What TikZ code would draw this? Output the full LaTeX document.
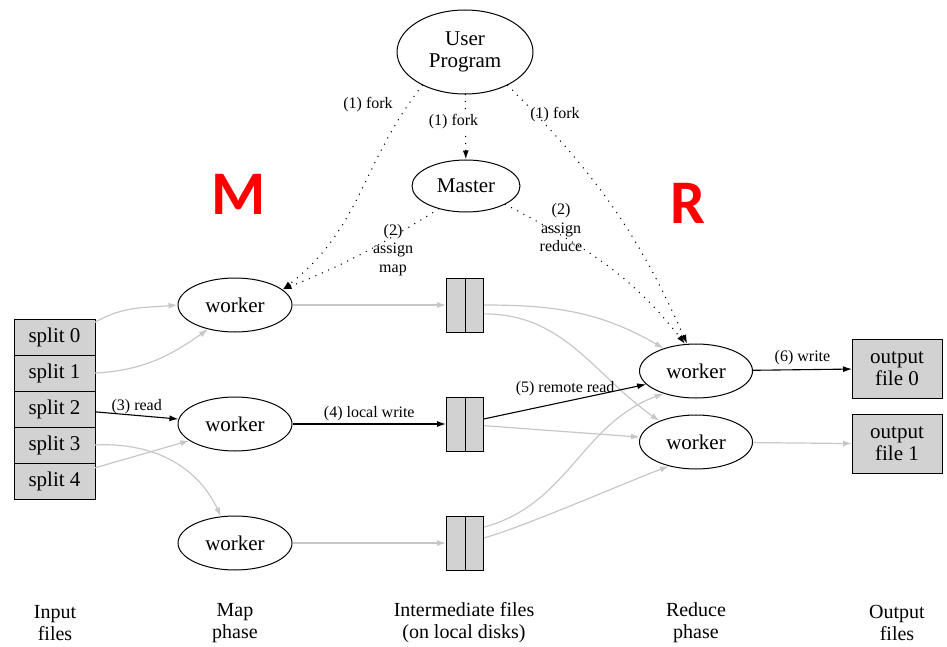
\documentclass[tikz,border=0pt]{standalone}
\usepackage{fontspec}
\setmainfont{Liberation Serif}
\newfontfamily\tagfont{Carlito}
\usetikzlibrary{shapes.geometric,arrows.meta,positioning}

\begin{document}
\begin{tikzpicture}
        [x=1pt,y=1pt,>={Latex[length=9pt,width=6pt]},
        main/.style ={draw,ellipse,line width=1pt,inner sep=0pt,align=center,font=\fontsize{21}{22}\selectfont},
        splitbox/.style ={draw,fill=gray!35,line width=1pt,inner sep=0pt,outer sep=0pt,minimum width=81pt,minimum height=36pt,font=\fontsize{21}{22}\selectfont},
        midfile/.style ={draw,fill=gray!35,line width=1pt,inner sep=0pt,minimum width=37pt,minimum height=54pt},
        outfile/.style ={splitbox,align=center,minimum width=90pt,minimum height=59pt},
        ctl/.style ={->,line width=1.5pt,dash pattern=on 0pt off 7pt,line cap=round},
        data/.style ={->,line width=1.2pt,black!22},
        hot/.style ={->,line width=1.1pt},
        lbl/.style ={font=\fontsize{16}{18.5}\selectfont,align=center,inner sep=1pt},
        phase/.style ={font=\fontsize{20}{22}\selectfont,align=center},
        tag/.style ={text=red,font=\tagfont\bfseries\fontsize{62}{62}\selectfont}]
        \useasboundingbox (0,0) rectangle (947,-647);
        \node[main,minimum width=136pt,minimum height=84pt] (user) at (465,-52){User\\Program};
        \node[main,minimum width=108pt,minimum height=52pt] (master) at (466,-186){Master};
        \node[main,minimum width=114pt,minimum height=54pt] (mw1) at (235,-305){worker};
        \node[main,minimum width=114pt,minimum height=54pt] (mw2) at (235,-424){worker};
        \node[main,minimum width=114pt,minimum height=54pt] (mw3) at (235,-543){worker};
        \node[main,minimum width=113pt,minimum height=54pt] (rw0) at (696,-371){worker};
        \node[main,minimum width=113pt,minimum height=54pt] (rw1) at (696,-442){worker};
        \node[splitbox] (s0) at (54.5,-337){split 0};
        \foreach \i [remember=\i as \j (initially 0)] in {1,...,4}
            \node[splitbox] (s\i)[below=0pt of s\j]{split \i};
        \node[midfile] (f1) at (465,-305){};
        \node[midfile] (f2) at (465,-424){};
        \node[midfile] (f3) at (465,-543){};
        \draw[line width=1pt] (f1.north) -- (f1.south) (f2.north) -- (f2.south) (f3.north) -- (f3.south);
        \node[outfile] (o0) at (897,-368.5){output\\file 0};
        \node[outfile] (o1) at (897,-444){output\\file 1};
        \node[tag] (mtag) at (239,-194){M};
        \node[tag] (rtag) at (688,-203){R};
        \draw[ctl] (user.218) to [out=232,in=38,looseness=1.05](mw1.18);
        \draw[ctl] (user) -- (master) node[lbl,pos=0.42,fill=white,xshift=-12pt] (fork2){(1) fork};
        \draw[ctl] (user.-38) to [out=-45,in=114](rw0.108);
        \draw[ctl] (master.220) to [out=212,in=22](mw1.18);
        \draw[ctl] (master.-25) to [out=-28,in=128](rw0.112);
        \node[lbl] (fork1) at (368,-105){(1) fork};
        \node[lbl] (fork3) at (555,-115){(1) fork};
        \node[lbl] (amap) at (393,-250){(2)\\assign\\map};
        \node[lbl] (ared) at (561,-228){(2)\\assign\\reduce};
        \draw[data] (s0.20) to [out=30,in=185](mw1.west);
        \draw[data] (s1.east) to [out=3,in=215](mw1.222);
        \draw[hot] (s2.-4) -- (mw2.175) node[lbl,midway,above] (read){(3) read};
        \draw[data] (s3.east) to [out=3,in=115](mw3.118);
        \draw[data] (s4.18) -- (mw2.200);
        \draw[data] (mw1) -- (f1);
        \draw[hot] (mw2) -- (f2) node[lbl,midway,above=2pt] (lwrite){(4) local write};
        \draw[data] (mw3) -- (f3);
        \draw[data] (f1.east) to [out=0,in=150](rw0.145);
        \draw[data] (f1.-25) to [out=0,in=145](rw1.150);
        \draw[hot] (f2.15) -- (rw0.195) node[lbl,midway,above=4pt] (rread){(5) remote read};
        \draw[data] (f2.-5) -- (rw1.175);
        \draw[data] (f3.40) to [out=15,in=200](rw0.215);
        \draw[data] (f3.15) to [out=15,in=200,looseness=0.5](rw1.222);
        \draw[hot] (rw0) -- (o0) node[lbl,midway,above=3pt] (write){(6) write};
        \draw[data] (rw1) -- (o1);
        \node[phase] (pin) at (55,-623){Input\\files};
        \node[phase] (pmap) at (235,-623){Map\\phase};
        \node[phase] (pmid) at (464,-623){Intermediate files\\(on local disks)};
        \node[phase] (pred) at (696,-623){Reduce\\phase};
        \node[phase] (pout) at (897,-623){Output\\files};
\end{tikzpicture}
\end{document}
